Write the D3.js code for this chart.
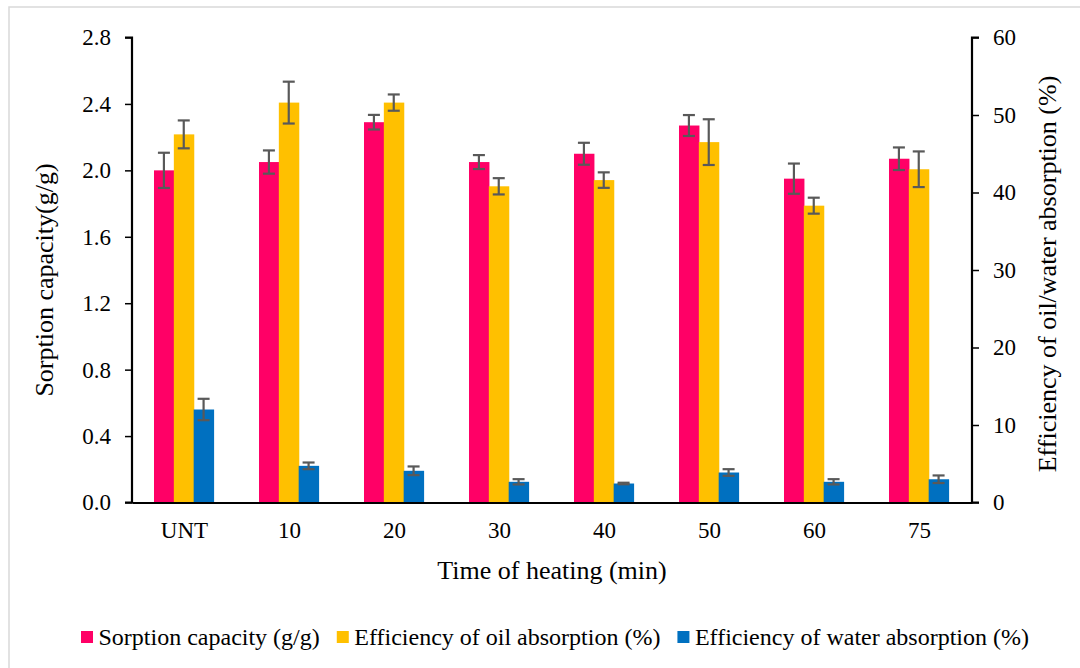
<!DOCTYPE html>
<html>
<head>
<meta charset="utf-8">
<script src="https://cdn.jsdelivr.net/npm/d3@7"></script>
<style>
  html, body { margin: 0; padding: 0; background: #ffffff; }
  svg { display: block; }
  text { font-family: "Liberation Serif", "Times New Roman", serif; fill: #000; }
</style>
</head>
<body>
<svg id="chart" width="1080" height="668"></svg>
<script>
// Heating time groups
const categories = ["UNT", "10", "20", "30", "40", "50", "60", "75"];

// Sorption capacity (g/g), left axis
const sorption = [2.00, 2.05, 2.29, 2.05, 2.10, 2.27, 1.95, 2.07];
const sorptionErr = [0.106, 0.070, 0.044, 0.042, 0.066, 0.063, 0.091, 0.068];

// Efficiency of oil absorption (%), right axis
const oilEff = [47.5, 51.6, 51.6, 40.8, 41.6, 46.5, 38.3, 43.0];
const oilErr = [1.8, 2.7, 1.05, 1.05, 1.0, 2.95, 1.03, 2.3];

// Efficiency of water absorption (%), right axis
const waterEff = [12.0, 4.73, 4.09, 2.67, 2.45, 3.87, 2.67, 3.0];
const waterErr = [1.38, 0.43, 0.56, 0.34, 0.10, 0.43, 0.34, 0.49];

const leftTicks = [0, 0.4, 0.8, 1.2, 1.6, 2.0, 2.4, 2.8];
const rightTicks = [0, 10, 20, 30, 40, 50, 60];

const seriesNames = [
  "Sorption capacity (g/g)",
  "Efficiency of oil absorption (%)",
  "Efficiency of water absorption (%)"
];
const seriesColors = ["#FF0066", "#FFC000", "#0070C0"];

const svg = d3.select("#chart");

// outer frame
svg.append("rect")
  .attr("x", 9).attr("y", 7)
  .attr("width", 1090).attr("height", 680)
  .attr("fill", "none")
  .attr("stroke", "#d9d9d9")
  .attr("stroke-width", 1.5);

const plot = { left: 132, right: 972, top: 37.5, bottom: 502.5 };

const x = d3.scaleBand().domain(categories).range([plot.left, plot.right]).padding(0);
const xs = d3.scaleBand().domain(seriesNames).range([-30.5, 29]);
const yL = d3.scaleLinear().domain([0, 2.8]).range([plot.bottom, plot.top]);
const yR = d3.scaleLinear().domain([0, 60]).range([plot.bottom, plot.top]);

const series = [
  { name: seriesNames[0], values: sorption, errs: sorptionErr, scale: yL, color: seriesColors[0] },
  { name: seriesNames[1], values: oilEff, errs: oilErr, scale: yR, color: seriesColors[1] },
  { name: seriesNames[2], values: waterEff, errs: waterErr, scale: yR, color: seriesColors[2] }
];

const bw = xs.bandwidth();

// bars
series.forEach(s => {
  svg.append("g").selectAll("rect")
    .data(categories.map((c, i) => ({ c, v: s.values[i] })))
    .join("rect")
    .attr("x", d => x(d.c) + x.bandwidth() / 2 + xs(s.name))
    .attr("y", d => s.scale(d.v))
    .attr("width", bw + 0.6)
    .attr("height", d => s.scale(0) - s.scale(d.v))
    .attr("fill", s.color);
});

// error bars
series.forEach(s => {
  const g = svg.append("g")
    .attr("stroke", "#595959")
    .attr("stroke-width", 2.2)
    .attr("fill", "none");
  const data = categories.map((c, i) => ({
    cx: x(c) + x.bandwidth() / 2 + xs(s.name) + bw / 2,
    lo: s.scale(s.values[i] - s.errs[i]),
    hi: s.scale(s.values[i] + s.errs[i])
  }));
  g.selectAll("line.stem").data(data).join("line")
    .attr("x1", d => d.cx).attr("x2", d => d.cx)
    .attr("y1", d => d.lo).attr("y2", d => d.hi);
  g.selectAll("line.top").data(data).join("line")
    .attr("x1", d => d.cx - 6).attr("x2", d => d.cx + 6)
    .attr("y1", d => d.hi).attr("y2", d => d.hi);
  g.selectAll("line.bot").data(data).join("line")
    .attr("x1", d => d.cx - 6).attr("x2", d => d.cx + 6)
    .attr("y1", d => d.lo).attr("y2", d => d.lo);
});

// left axis
const axL = svg.append("g")
  .attr("transform", `translate(${plot.left},0)`)
  .call(d3.axisLeft(yL).tickValues(leftTicks).tickFormat(d3.format(".1f")).tickSize(7).tickPadding(14));
// right axis
const axR = svg.append("g")
  .attr("transform", `translate(${plot.right},0)`)
  .call(d3.axisRight(yR).tickValues(rightTicks).tickFormat(d3.format("d")).tickSize(7).tickPadding(14));
// bottom axis
const axB = svg.append("g")
  .attr("transform", `translate(0,${plot.bottom})`)
  .call(d3.axisBottom(x).tickSize(0).tickPadding(19));

[axL, axR, axB].forEach(a => {
  a.select(".domain").attr("stroke", "#000").attr("stroke-width", 2.2);
  a.selectAll(".tick line").attr("stroke", "#000").attr("stroke-width", 1.5);
  a.selectAll(".tick text")
    .style("font-family", '"Liberation Serif", "Times New Roman", serif')
    .style("font-size", "23px")
    .attr("fill", "#000");
});
axL.select(".domain").attr("d", `M-7,${plot.top}H0V${plot.bottom}H-7`);
axR.select(".domain").attr("d", `M7,${plot.top}H0V${plot.bottom}H7`);

// axis titles
svg.append("text")
  .attr("x", (plot.left + plot.right) / 2)
  .attr("y", 579)
  .attr("text-anchor", "middle")
  .style("font-size", "26px")
  .text("Time of heating (min)");

svg.append("text")
  .attr("transform", "translate(53,280) rotate(-90)")
  .attr("text-anchor", "middle")
  .style("font-size", "26px")
  .text("Sorption capacity(g/g)");

svg.append("text")
  .attr("transform", "translate(1056,274) rotate(-90)")
  .attr("text-anchor", "middle")
  .style("font-size", "26px")
  .text("Efficiency of oil/water absorption (%)");

// legend
const legend = svg.append("g").attr("transform", "translate(81,0)");
let lx = 0;
seriesNames.forEach((name, i) => {
  const item = legend.append("g").attr("transform", `translate(${lx},0)`);
  item.append("rect")
    .attr("x", 0).attr("y", 631)
    .attr("width", 12).attr("height", 12)
    .attr("fill", seriesColors[i]);
  const t = item.append("text")
    .attr("x", 17.5).attr("y", 644.5)
    .style("font-size", "24px")
    .text(name);
  lx += 17.5 + t.node().getComputedTextLength() + 17;
});
</script>
</body>
</html>
